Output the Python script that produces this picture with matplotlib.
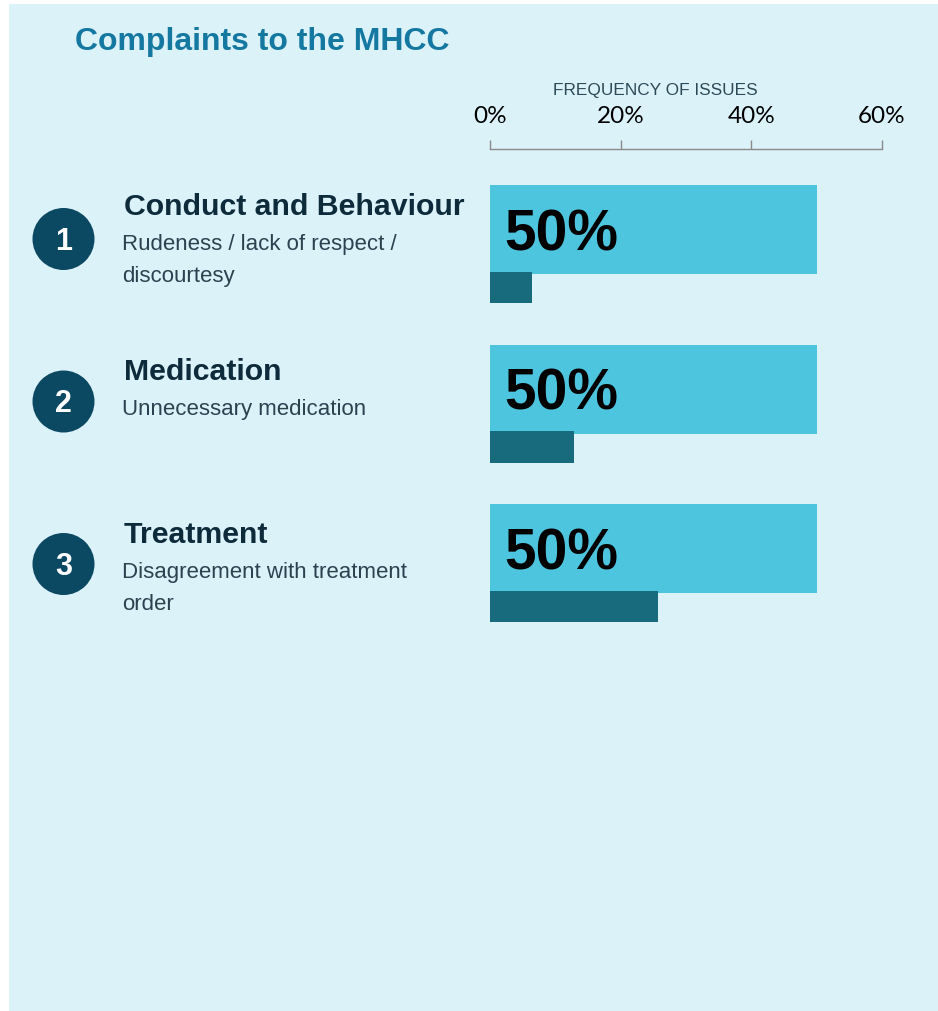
import matplotlib
matplotlib.use("Agg")
import matplotlib.pyplot as plt
from matplotlib.patches import Rectangle, Ellipse

# ---------------- data ----------------
categories = ["Conduct and Behaviour", "Medication", "Treatment"]
descriptions = ["Rudeness / lack of respect /\ndiscourtesy",
                "Unnecessary medication",
                "Disagreement with treatment\norder"]
ranks = ["1", "2", "3"]
category_share = [50, 50, 50]          # light bars (%)
issue_share = [6.5, 12.9, 25.7]        # dark bars (%)
xticks = [0, 20, 40, 60]
xtick_labels = ["0%", "20%", "40%", "60%"]
title = "Complaints to the MHCC"
axis_title = "FREQUENCY OF ISSUES"

# ---------------- style ----------------
W, H = 938, 1011
BG = "#dcf2f9"
LIGHT = "#4dc5df"
DARK = "#176b7c"
CIRCLE = "#0b4862"
TITLE_C = "#1478a0"
HEAD_C = "#0d2b3b"
SUB_C = "#2a434f"

fig = plt.figure(figsize=(W / 100, H / 100), dpi=100)
fig.patch.set_facecolor("white")


def fx(x):
    return x / W


def fy(y):
    return 1 - y / H


# background panel
fig.patches.append(Rectangle((fx(9), 0), 1 - fx(9), fy(4), transform=fig.transFigure,
                             facecolor=BG, edgecolor="none", zorder=-10))

# title
fig.text(fx(75), fy(50), title, fontsize=23, fontweight="bold", color=TITLE_C,
         family="Liberation Sans", va="baseline", ha="left")

# axis title
fig.text(fx(655), fy(95), axis_title, fontsize=12.4, color="#2c4a56",
         family="Liberation Sans", va="baseline", ha="center")

# ---------------- bar axes ----------------
unit = 159.5
top_px, bot_px = 149, 700
c0 = 229.5
ax = fig.add_axes([fx(490), fy(bot_px), fx(882) - fx(490), (bot_px - top_px) / H])
ax.set_zorder(1)
ax.set_facecolor("none")
ax.set_xlim(0, 60)
ax.set_ylim((bot_px - c0) / unit, (top_px - c0) / unit)

ypos = list(range(len(categories)))
light_h = 89 / unit
dark_off = 58 / unit
dark_h = 31.5 / unit
ax.barh(ypos, category_share, height=light_h, color=LIGHT, zorder=2)
ax.barh([y + dark_off for y in ypos], issue_share, height=dark_h, color=DARK, zorder=3)

for y, v in zip(ypos, category_share):
    ax.annotate(f"{v:.0f}%", xy=(0, y), xytext=(14, -21), textcoords="offset pixels",
                fontsize=41, fontweight="bold", color="black", family="Liberation Sans",
                va="baseline", ha="left", zorder=4)

for s in ["bottom", "left", "right"]:
    ax.spines[s].set_visible(False)
ax.spines["top"].set_color("#8a8a8a")
ax.spines["top"].set_linewidth(1.0)
ax.xaxis.set_ticks_position("top")
ax.set_xticks(xticks)
ax.set_xticklabels(xtick_labels, family="Lato", fontsize=17.5, color="black")
ax.tick_params(axis="x", direction="out", length=6.5, width=1.0, color="#8a8a8a", pad=9)
ax.set_yticks([])

# ---------------- left labels ----------------
circle_y = [239, 401.5, 564]
head_y = [215, 380, 543]
sub_y = [250, 415, 578]
r = 31
for i in range(len(categories)):
    fig.patches.append(Ellipse((fx(63.5), fy(circle_y[i])), 2 * r / W, 2 * r / H,
                               transform=fig.transFigure, facecolor=CIRCLE,
                               edgecolor="none", zorder=2))
    fig.text(fx(63.5), fy(circle_y[i] + 11), ranks[i], fontsize=22, fontweight="bold",
             color="white", family="Liberation Sans", ha="center", va="baseline", zorder=3)
    fig.text(fx(124), fy(head_y[i]), categories[i], fontsize=21.8, fontweight="bold",
             color=HEAD_C, family="Liberation Sans", ha="left", va="baseline")
    lines = descriptions[i].split("\n")
    for j, ln in enumerate(lines):
        fig.text(fx(122), fy(sub_y[i] + 32 * j), ln, fontsize=16, color=SUB_C,
                 family="Liberation Sans", ha="left", va="baseline")

fig.savefig("out.png", dpi=100, facecolor=fig.get_facecolor())
